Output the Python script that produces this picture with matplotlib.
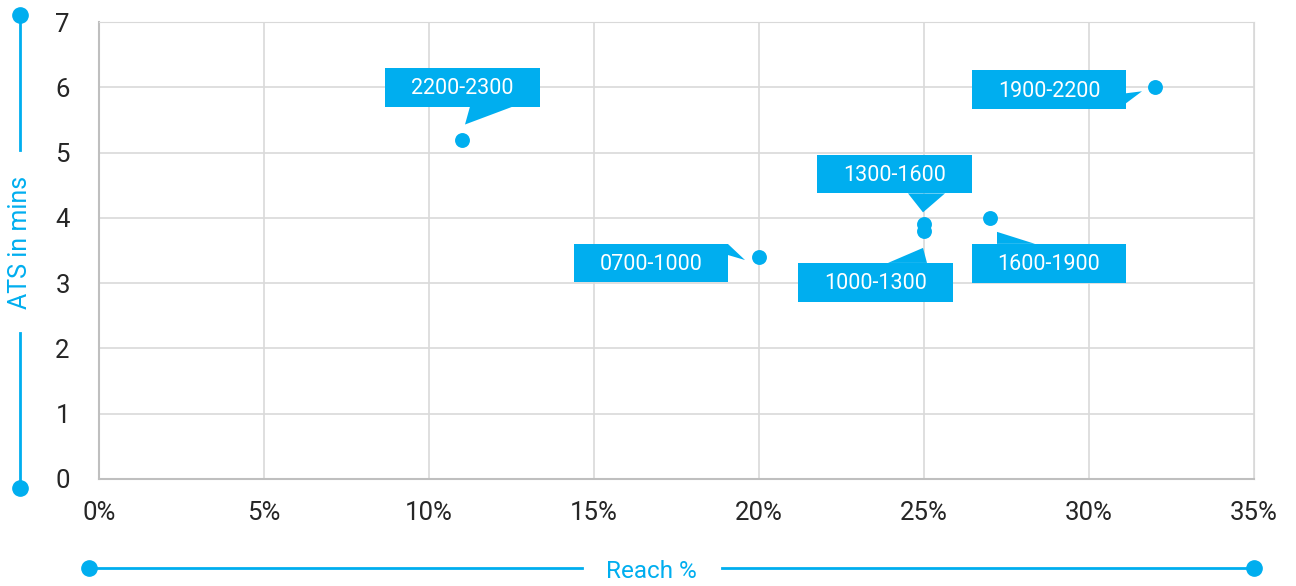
import matplotlib.pyplot as plt
import matplotlib.transforms as mtransforms
from matplotlib.patches import Polygon
from matplotlib.lines import Line2D

plt.rcParams['font.family'] = ['Roboto', 'DejaVu Sans']

# data
slots = ['2200-2300', '1900-2200', '1300-1600', '1000-1300', '1600-1900', '0700-1000']
reach = [11, 32, 25, 25, 27, 20]          # %
ats = [5.2, 6.0, 3.9, 3.8, 4.0, 3.4]      # minutes

x_ticks = [0, 5, 10, 15, 20, 25, 30, 35]
x_labels = ['0%', '5%', '10%', '15%', '20%', '25%', '30%', '35%']
y_ticks = [0, 1, 2, 3, 4, 5, 6, 7]

blue = '#00AEEF'

# callout shapes in pixels relative to the point (dx right, dy down)
# box: (x0, x1, y0, y1), pointer: list of 3 vertices (base, tip, base)
callouts = {
    '2200-2300': ((-77, 78, -72, -33), [(8, -33), (3, -15), (51, -33)]),
    '1900-2200': ((-183, -29, -17, 22), [(-29, 6), (-13, 4), (-29, 16)]),
    '1300-1600': ((-107, 48, -69, -31), [(-16, -31), (-1, -12), (21, -31)]),
    '1000-1300': ((-126, 29, 32, 71), [(-36, 32), (-1, 17), (3, 32)]),
    '1600-1900': ((-18, 136, 26, 65), [(7, 26), (7, 14), (45, 26)]),
    '0700-1000': ((-185, -31, -13, 25), [(-31, -13), (-14, 3), (-31, -2)]),
}

fig = plt.figure(figsize=(12.96, 5.86), dpi=100)
ax = fig.add_axes([99/1296, 1-479/586, (1254-99)/1296, (479-22)/586])

ax.set_xlim(0, 35)
ax.set_ylim(0, 7)
ax.set_xticks(x_ticks)
ax.set_xticklabels(x_labels)
ax.set_yticks(y_ticks)
ax.tick_params(length=0, labelsize=18.5, labelcolor='#262626')
ax.tick_params(axis='x', pad=16)
ax.tick_params(axis='y', pad=21)
ax.grid(True, color='#d9d9d9', linewidth=1.2)
ax.set_axisbelow(True)
for s in ['top', 'right']:
    ax.spines[s].set_color('#d9d9d9')
for s in ['left', 'bottom']:
    ax.spines[s].set_color('#bfbfbf')
    ax.spines[s].set_linewidth(1.5)

ax.scatter(reach, ats, s=115, color=blue, zorder=4, linewidths=0)

# callouts
for name, x, y in zip(slots, reach, ats):
    (x0, x1, y0, y1), tri = callouts[name]
    tr = mtransforms.Affine2D().scale(1, -1) + mtransforms.ScaledTranslation(x, y, ax.transData)
    box = Polygon([(x0, y0), (x1, y0), (x1, y1), (x0, y1)], closed=True,
                  transform=tr, facecolor=blue, edgecolor='none', zorder=5, clip_on=False)
    ax.add_patch(box)
    ax.add_patch(Polygon(tri, closed=True, transform=tr, facecolor=blue,
                         edgecolor='none', zorder=5, clip_on=False))
    ax.text((x0 + x1) / 2, (y0 + y1) / 2 + 1.5, name, transform=tr, ha='center', va='center',
            color='white', fontsize=15.5, zorder=6)

# axis title decorations
W, H = 1296, 586
def fx(p):
    return p / W
def fy(p):
    return 1 - p / H

fig.add_artist(Line2D([fx(20), fx(20)], [fy(15), fy(150)], color=blue, lw=2))
fig.add_artist(Line2D([fx(20), fx(20)], [fy(333), fy(488)], color=blue, lw=2))
fig.add_artist(Line2D([fx(20), fx(20)], [fy(15), fy(488)], color=blue, lw=0,
                      marker='o', markersize=11))
fig.text(fx(20), fy(242), 'ATS in mins', rotation=90, ha='center', va='center',
         color=blue, fontsize=18)

fig.add_artist(Line2D([fx(89), fx(582)], [fy(568), fy(568)], color=blue, lw=2))
fig.add_artist(Line2D([fx(722), fx(1254)], [fy(568), fy(568)], color=blue, lw=2))
fig.add_artist(Line2D([fx(89), fx(1254)], [fy(568), fy(568)], color=blue, lw=0,
                      marker='o', markersize=11))
fig.text(fx(651), fy(571), 'Reach %', ha='center', va='center', color=blue, fontsize=17.5)

fig.savefig('out.png', dpi=100)
